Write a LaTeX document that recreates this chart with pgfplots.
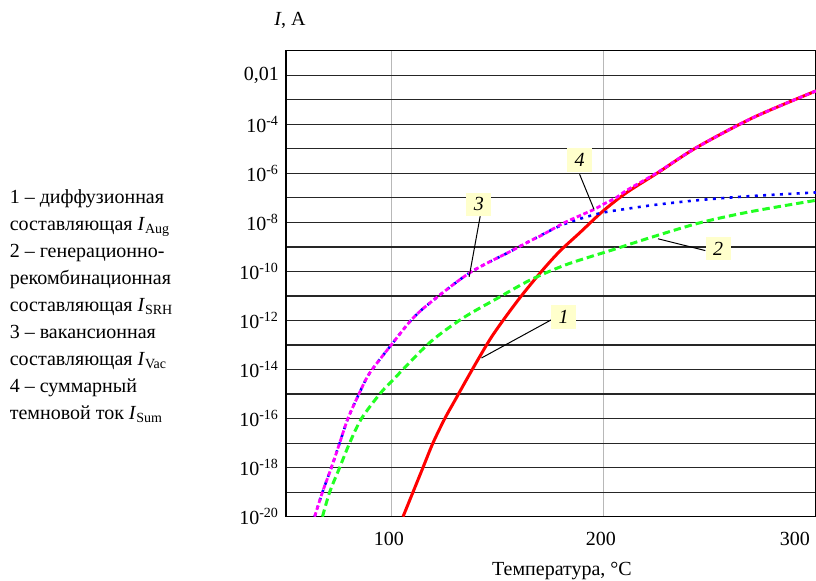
\documentclass[border=0pt]{standalone}
\usepackage{fontspec}
\setmainfont{Liberation Serif}
\usepackage{pgfplots}
\pgfplotsset{compat=1.18}
\definecolor{lblbox}{HTML}{FFFFCC}
\definecolor{cred}{HTML}{FF0000}
\definecolor{cgreen}{HTML}{22FF22}
\definecolor{cblue}{HTML}{0000FF}
\definecolor{cmag}{HTML}{FF00FF}
\begin{document}
\begin{tikzpicture}
\begin{axis}[
  at={(0,0)}, anchor=south west,
  scale only axis, width=265pt, height=233pt,
  xmin=50, xmax=300, ymode=log, ymin=1e-20, ymax=1e-1,
  xtick={100,200,300}, xticklabels={100,200,\llap{300\hspace{1.5pt}}},
  ytick={1e-20,1e-19,1e-18,1e-17,1e-16,1e-15,1e-14,1e-13,1e-12,1e-11,1e-10,1e-9,1e-8,1e-7,1e-6,1e-5,1e-4,1e-3,1e-2},
  yticklabels={10\textsuperscript{-20},{},10\textsuperscript{-18},{},10\textsuperscript{-16},{},10\textsuperscript{-14},{},10\textsuperscript{-12},{},10\textsuperscript{-10},{},10\textsuperscript{-8},{},10\textsuperscript{-6},{},10\textsuperscript{-4},{},{0,01}},
  xmajorgrids, ymajorgrids,
  every axis x grid/.style={black!28, line width=0.5pt},
  every axis y grid/.style={black!85, line width=0.6pt},
  major tick length=0pt, minor tick length=0pt,
  axis line style={line width=0.7pt},
  xticklabel style={yshift=-4pt, xshift=-1.5pt},
]
\addplot[cred, line width=1.5pt, smooth] coordinates {
(105.2,1e-20) (109.9,1e-19) (114.6,1e-18) (119.3,1e-17) (124.9,1e-16)
(130.0,6.17e-16) (135.1,3.80e-15) (141.4,3.39e-14) (146.9,2.09e-13)
(153.2,1.26e-12) (161.0,1e-11) (170.5,1e-10) (179.1,6.61e-10)
(188.5,3.72e-9) (199.5,2.88e-8) (210.6,1.62e-7) (225.5,1.07e-6)
(243.6,1.12e-5) (270.3,1.86e-4) (300,2.29e-3)};
\addplot[cgreen, line width=1.5pt, dash pattern=on 3.7pt off 2pt, smooth] coordinates {
(67.2,1e-20) (70.6,1e-19) (75.3,1e-18) (80.0,1e-17) (85.6,1e-16)
(94.2,1e-15) (100.5,3.80e-15) (117.8,1.26e-13) (133.5,1.26e-12)
(149.2,7.59e-12) (165,4.37e-11) (182.3,1.91e-10) (204.4,7.76e-10)
(221.5,2.34e-9) (245.1,9.55e-9) (268.7,2.69e-8) (300,7.94e-8)};
\addplot[cblue, line width=1.3pt, dash pattern=on 1.5pt off 2.7pt, smooth] coordinates {
(63.5,1e-20) (67.2,1e-19) (71.4,1e-18) (75.3,1e-17) (79.2,1e-16)
(84.4,1e-15) (89.5,7.24e-15) (99.7,1.02e-13) (109.2,1.07e-12)
(117.8,5.13e-12) (136.6,8.71e-11) (155.5,6.31e-10) (166,1.91e-9)
(180.7,8.13e-9) (197.5,2.29e-8) (212.1,3.72e-8) (225.5,5.37e-8)
(245.1,8.13e-8) (268.7,1.17e-7) (300,1.66e-7)};
\addplot[cmag, line width=1.4pt, dash pattern=on 2.3pt off 1.3pt, smooth] coordinates {
(63.5,1e-20) (67.2,1e-19) (71.4,1e-18) (75.3,1e-17) (79.2,1e-16)
(84.4,1e-15) (89.5,7.24e-15) (99.7,1.02e-13) (109.2,1.07e-12)
(117.8,5.13e-12) (136.6,8.71e-11) (155.5,6.31e-10) (166,1.91e-9)
(170.5,2.95e-9) (180.7,9.12e-9) (188.5,1.86e-8) (195.6,3.47e-8)
(199.5,5.37e-8) (205.8,1.02e-7) (210.6,2.00e-7) (225.5,1.12e-6)
(243.6,1.12e-5) (270.3,1.86e-4) (300,2.29e-3)};
% leader lines
\draw[line width=0.5pt] (axis cs:141.6,1.78e-8) -- (axis cs:136.4,6.03e-11);
\draw[line width=0.5pt] (axis cs:188.5,9.12e-7) -- (axis cs:195.3,3.39e-8);
\draw[line width=0.5pt] (axis cs:247.8,7.08e-10) -- (axis cs:225.5,2.14e-9);
\draw[line width=0.5pt] (axis cs:175.2,1.07e-12) -- (axis cs:142.2,2.95e-14);
% label boxes
\tikzset{lbl/.style={fill=lblbox, font=\itshape, minimum width=12.5pt, minimum height=11.7pt, inner sep=0pt}}
\node[lbl] at (axis cs:141.0,5.37e-8) {3};
\node[lbl] at (axis cs:188.5,3.55e-6) {4};
\node[lbl] at (axis cs:253.8,8.51e-10) {2};
\node[lbl] at (axis cs:181.0,1.38e-12) {1};
\end{axis}
\pgfresetboundingbox
\path[use as bounding box] (-143pt,-32.15pt) rectangle (265pt,258.35pt);
\node[anchor=base] at (2pt,245.35pt) {\textit{I}, A};
\node[anchor=base] at (138pt,-29.65pt) {Температура, °C};
\begin{scope}[every node/.style={anchor=base west, inner sep=0pt}]
\node at (-138.3pt,156.5pt) {1 – диффузионная};
\node at (-138.3pt,143pt) {составляющая \textit{I}\textsubscript{Aug}};
\node at (-138.3pt,129.5pt) {2 – генерационно-};
\node at (-138.3pt,116pt) {рекомбинационная};
\node at (-138.3pt,102.5pt) {составляющая \textit{I}\textsubscript{SRH}};
\node at (-138.3pt,89pt) {3 – вакансионная};
\node at (-138.3pt,75.5pt) {составляющая \textit{I}\textsubscript{Vac}};
\node at (-138.3pt,62pt) {4 – суммарный};
\node at (-138.3pt,48.5pt) {темновой ток \textit{I}\textsubscript{Sum}};
\end{scope}
\end{tikzpicture}
\end{document}
